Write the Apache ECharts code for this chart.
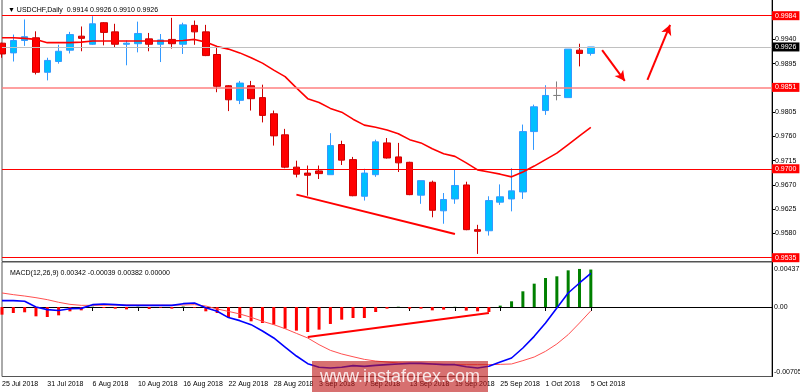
<!DOCTYPE html>
<html>
<head>
<meta charset="utf-8">
<script src="https://cdn.jsdelivr.net/npm/echarts@6/dist/echarts.min.js"></script>
<style>html,body{margin:0;padding:0;background:#fff}#c{width:800px;height:392px}</style>
</head>
<body>
<div id="c"></div>
<script>
// ---------------- data ----------------
const symbolName = 'USDCHF,Daily';
const dates = ['25 Jul 2018','26 Jul 2018','27 Jul 2018','30 Jul 2018','31 Jul 2018','1 Aug 2018','2 Aug 2018','3 Aug 2018','6 Aug 2018','7 Aug 2018','8 Aug 2018','9 Aug 2018','10 Aug 2018','13 Aug 2018','14 Aug 2018','15 Aug 2018','16 Aug 2018','17 Aug 2018','20 Aug 2018','21 Aug 2018','22 Aug 2018','23 Aug 2018','24 Aug 2018','27 Aug 2018','28 Aug 2018','29 Aug 2018','30 Aug 2018','31 Aug 2018','3 Sep 2018','4 Sep 2018','5 Sep 2018','6 Sep 2018','7 Sep 2018','10 Sep 2018','11 Sep 2018','12 Sep 2018','13 Sep 2018','14 Sep 2018','17 Sep 2018','18 Sep 2018','19 Sep 2018','20 Sep 2018','21 Sep 2018','24 Sep 2018','25 Sep 2018','26 Sep 2018','27 Sep 2018','28 Sep 2018','1 Oct 2018','2 Oct 2018','3 Oct 2018','4 Oct 2018','5 Oct 2018'];
const futureSlots = 16;

const opens  = [0.9933,0.9915,0.9938,0.9943,0.9879,0.9899,0.9920,0.9946,0.9931,0.9971,0.9954,0.9931,0.9932,0.9941,0.9931,0.9940,0.9931,0.9966,0.9954,0.9912,0.9854,0.9827,0.9854,0.9832,0.9802,0.9763,0.9703,0.9692,0.9696,0.9689,0.9745,0.9717,0.9649,0.9689,0.9748,0.9722,0.9712,0.9651,0.9675,0.9622,0.9644,0.9670,0.9587,0.9585,0.9638,0.9644,0.9657,0.9769,0.9808,0.9836,0.9832,0.9920,0.9914];
const highs  = [0.9934,0.9949,0.9977,0.9955,0.9906,0.9930,0.9954,0.9964,0.9983,0.9972,0.9969,0.9938,0.9973,0.9952,0.9950,0.9980,0.9971,0.9975,0.9967,0.9924,0.9855,0.9863,0.9863,0.9856,0.9808,0.9774,0.9715,0.9706,0.9706,0.9766,0.9752,0.9722,0.9700,0.9754,0.9757,0.9748,0.9713,0.9678,0.9678,0.9655,0.9698,0.9676,0.9596,0.9649,0.9671,0.9701,0.9782,0.9819,0.9855,0.9862,0.9922,0.9932,0.9926];
const lows   = [0.9906,0.9899,0.9928,0.9875,0.9864,0.9895,0.9914,0.9918,0.9930,0.9929,0.9925,0.9892,0.9916,0.9918,0.9898,0.9923,0.9913,0.9930,0.9909,0.9842,0.9807,0.9820,0.9808,0.9786,0.9743,0.9701,0.9684,0.9650,0.9681,0.9689,0.9707,0.9649,0.9641,0.9685,0.9719,0.9694,0.9651,0.9635,0.9610,0.9598,0.9635,0.9586,0.9542,0.9576,0.9633,0.9621,0.9644,0.9735,0.9800,0.9827,0.9832,0.9890,0.9910];
const closes = [0.9913,0.9938,0.9945,0.9879,0.9901,0.9918,0.9949,0.9942,0.9969,0.9953,0.9931,0.9933,0.9951,0.9931,0.9939,0.9932,0.9967,0.9954,0.9910,0.9853,0.9828,0.9859,0.9830,0.9799,0.9761,0.9703,0.9690,0.9688,0.9691,0.9743,0.9716,0.9650,0.9692,0.9750,0.9720,0.9711,0.9652,0.9678,0.9623,0.9643,0.9669,0.9587,0.9584,0.9641,0.9648,0.9659,0.9769,0.9815,0.9836,0.9836,0.9922,0.9914,0.9926];

const maValues = [0.9943,0.9943,0.9942,0.9940,0.9934,0.9934,0.9934,0.9935,0.9937,0.9937,0.9937,0.9937,0.9937,0.9937,0.9937,0.9937,0.9938,0.9940,0.9935,0.9927,0.9922,0.9915,0.9906,0.9896,0.9883,0.9871,0.9850,0.9830,0.9823,0.9812,0.9805,0.9792,0.9781,0.9777,0.9772,0.9765,0.9754,0.9748,0.9737,0.9728,0.9723,0.9711,0.9698,0.9694,0.9690,0.9685,0.9694,0.9705,0.9717,0.9729,0.9745,0.9761,0.9777];

const macdHist = [-0.00078,-0.00061,-0.00054,-0.00095,-0.00102,-0.00085,-0.00044,-0.00034,0.00003,-0.00010,-0.00017,-0.00024,0.00003,-0.00020,-0.00007,-0.00017,0.00005,-0.00007,-0.00044,-0.00061,-0.00105,-0.00112,-0.00146,-0.00163,-0.00180,-0.00221,-0.00241,-0.00255,-0.00231,-0.00173,-0.00129,-0.00112,-0.00112,-0.00051,-0.00017,0.00003,-0.00017,-0.00017,-0.00034,-0.00027,0.00002,-0.00037,-0.00044,-0.00051,0.00014,0.00058,0.00160,0.00238,0.00296,0.00313,0.00374,0.00388,0.00382];
const macdLine = [0.00065,0.00065,0.00058,0.00000,-0.00027,-0.00035,-0.00017,-0.00014,0.00024,0.00031,0.00024,0.00017,0.00017,0.00017,0.00017,0.00017,0.00034,0.00041,-0.00007,-0.00044,-0.00108,-0.00139,-0.00180,-0.00245,-0.00316,-0.00408,-0.00500,-0.00578,-0.00615,-0.00622,-0.00615,-0.00598,-0.00605,-0.00595,-0.00588,-0.00581,-0.00575,-0.00575,-0.00581,-0.00588,-0.00588,-0.00609,-0.00622,-0.00605,-0.00561,-0.00520,-0.00418,-0.00299,-0.00163,-0.00010,0.00143,0.00245,0.00342];
const signalLine = [0.00143,0.00126,0.00112,0.00095,0.00075,0.00048,0.00027,0.00017,0.00017,0.00018,0.00020,0.00021,0.00020,0.00019,0.00019,0.00018,0.00020,0.00024,0.00010,-0.00020,-0.00045,-0.00071,-0.00105,-0.00146,-0.00180,-0.00221,-0.00269,-0.00316,-0.00384,-0.00442,-0.00479,-0.00507,-0.00534,-0.00551,-0.00561,-0.00571,-0.00575,-0.00578,-0.00581,-0.00585,-0.00588,-0.00588,-0.00588,-0.00588,-0.00585,-0.00581,-0.00547,-0.00510,-0.00452,-0.00377,-0.00282,-0.00163,-0.00039];

const levelLines = [0.9984, 0.9851, 0.9700, 0.9535];
const currentPrice = 0.9926;
const priceTicks = [0.9940, 0.9895, 0.9805, 0.9760, 0.9715, 0.9670, 0.9625, 0.9580];
const macdTicks = [0.00437, 0, -0.00705];
const macdTickLabels = ['0.00437', '0.00', '-0.00705'];
const priceTrend = [[26, 0.9652], [40, 0.9579]];
const arrowDown = [[53, 0.9920], [55, 0.9863]];
const arrowUp = [[57, 0.9865], [59, 0.9967]];
const macdTrend = [[27, -0.00306], [43, -0.00061]];

// ---------------- chart ----------------
const FONT = 'Liberation Sans';
const categories = dates.concat(new Array(futureSlots).fill(''));
const n = dates.length;
const candleData = dates.map((d, i) => {
  const item = { value: [opens[i], closes[i], lows[i], highs[i]] };
  if (opens[i] === closes[i]) item.itemStyle = { color: '#808080', borderColor: '#808080', borderColor0: '#808080', color0: '#808080', borderColorDoji: '#808080' };
  return item;
});
const f4 = v => v.toFixed(4);
const last = n - 1;
const header = '\u25BC ' + symbolName + '  ' + f4(opens[last]) + ' ' + f4(highs[last]) + ' ' + f4(lows[last]) + ' ' + f4(closes[last]);
const macdHeader = 'MACD(12,26,9) ' + macdLine[last].toFixed(5) + ' ' + signalLine[last].toFixed(5) + ' ' + macdHist[last].toFixed(5) + ' 0.00000';

// horizontal level drawn as a 2-point line across the whole category range
function levelItem(v, lineColor, boxColor, width) {
  return [
    { coord: [0, v], lineStyle: { color: lineColor, width: width, type: 'solid' },
      label: { show: true, position: 'end', distance: 0, formatter: f4(v), color: '#fff', backgroundColor: boxColor,
               padding: [1, 3, 1, 3], fontSize: 7, fontFamily: FONT } },
    { coord: [categories.length - 1, v] }
  ];
}
const redLine = { color: '#ff0000', width: 2, type: 'solid' };
const showTick = (idx) => idx % 4 === 0 && idx < n;

const option = {
  animation: false,
  backgroundColor: '#ffffff',
  title: [
    { text: header, left: 3, top: 2, textStyle: { fontSize: 7, fontWeight: 'normal', color: '#000', fontFamily: FONT } },
    { text: macdHeader, left: 5, top: 265, textStyle: { fontSize: 7, fontWeight: 'normal', color: '#000', fontFamily: FONT } }
  ],
  grid: [
    { left: 2, right: 28, top: -1, height: 262.5, show: true, borderColor: '#555', borderWidth: 1, outerBoundsMode: 'none', containLabel: false },
    { left: 2, right: 28, top: 262, height: 114.5, show: true, borderColor: '#555', borderWidth: 1, outerBoundsMode: 'none', containLabel: false }
  ],
  xAxis: [
    { type: 'category', gridIndex: 0, data: categories, boundaryGap: false, show: false },
    {
      type: 'category', gridIndex: 1, data: categories, boundaryGap: false,
      axisLine: { show: true, lineStyle: { color: '#000', width: 1 } },
      axisTick: { show: true, interval: showTick, length: 4, lineStyle: { color: '#000' } },
      axisLabel: { show: true, interval: showTick, align: 'left', margin: 4, fontSize: 7, color: '#000', fontFamily: FONT },
      splitLine: { show: false }
    }
  ],
  yAxis: [
    {
      type: 'value', gridIndex: 0, position: 'right', min: 0.952795, max: 1.001498, scale: true,
      splitLine: { show: false },
      axisLine: { show: true, lineStyle: { color: '#000', width: 1 } },
      axisTick: { show: true, length: 3, customValues: priceTicks, lineStyle: { color: '#000' } },
      axisLabel: { show: true, customValues: priceTicks, hideOverlap: false, formatter: v => f4(v), margin: 3, fontSize: 7, color: '#000', fontFamily: FONT }
    },
    {
      type: 'value', gridIndex: 1, position: 'right', min: -0.007087, max: 0.004589,
      splitLine: { show: false },
      axisLine: { show: true, lineStyle: { color: '#000', width: 1 } },
      axisTick: { show: false },
      axisLabel: {
        show: true, customValues: macdTicks, margin: 2, fontSize: 7, color: '#000', fontFamily: FONT,
        formatter: v => {
          let k = 0, best = Infinity;
          macdTicks.forEach((t, j) => { const d = Math.abs(t - v); if (d < best) { best = d; k = j; } });
          const s = k === 0 ? 't' : (k === macdTicks.length - 1 ? 'b' : 'm');
          return '{' + s + '|' + macdTickLabels[k] + '}';
        },
        rich: {
          t: { padding: [9, 0, 0, 0], fontSize: 7, color: '#000', fontFamily: FONT },
          m: { fontSize: 7, color: '#000', fontFamily: FONT },
          b: { padding: [0, 0, 8, 0], fontSize: 7, color: '#000', fontFamily: FONT }
        }
      }
    }
  ],
  series: [
    {
      name: 'price', type: 'candlestick', xAxisIndex: 0, yAxisIndex: 0,
      data: candleData, barWidth: 7, clip: true, z: 2,
      itemStyle: { color: '#00bfff', color0: '#ff0000', borderColor: '#3399ff', borderColor0: '#cc0000', borderWidth: 1 }
    },
    {
      name: 'ma', type: 'line', xAxisIndex: 0, yAxisIndex: 0, data: maValues,
      symbol: 'none', lineStyle: { color: '#ff0000', width: 1.6 }, z: 3,
      markLine: {
        silent: true, symbol: ['none', 'none'], animation: false, precision: 4,
        data: [
          levelItem(levelLines[0], '#ff0000', '#ff0000', 1),
          levelItem(levelLines[1], '#ff8080', '#ff0000', 1.5),
          levelItem(levelLines[2], '#ff0000', '#ff0000', 1),
          levelItem(levelLines[3], '#ff0000', '#ff0000', 1),
          levelItem(currentPrice, '#c0c0c0', '#000000', 1),
          [ { coord: priceTrend[0], lineStyle: redLine, label: { show: false } }, { coord: priceTrend[1] } ],
          [ { coord: arrowDown[0], symbol: 'none', lineStyle: redLine, label: { show: false } }, { coord: arrowDown[1], symbol: 'arrow', symbolSize: [8, 10] } ],
          [ { coord: arrowUp[0], symbol: 'none', lineStyle: redLine, label: { show: false } }, { coord: arrowUp[1], symbol: 'arrow', symbolSize: [8, 10] } ]
        ]
      }
    },
    {
      name: 'hist', type: 'bar', xAxisIndex: 1, yAxisIndex: 1, barWidth: 3,
      data: macdHist.map(v => ({ value: v, itemStyle: { color: v >= 0 ? '#008000' : '#ff0000' } })),
      markLine: {
        silent: true, symbol: ['none', 'none'], animation: false,
        data: [ [ { coord: macdTrend[0], lineStyle: redLine, label: { show: false } }, { coord: macdTrend[1] } ] ]
      }
    },
    {
      name: 'signal', type: 'line', xAxisIndex: 1, yAxisIndex: 1, data: signalLine,
      symbol: 'none', lineStyle: { color: '#ff5050', width: 1 }, z: 3
    },
    {
      name: 'macd', type: 'line', xAxisIndex: 1, yAxisIndex: 1, data: macdLine,
      symbol: 'none', lineStyle: { color: '#0000ff', width: 1.6 }, z: 4
    }
  ],
  graphic: [
    { type: 'rect', z: 100, shape: { x: 312, y: 361, width: 176, height: 31 }, style: { fill: 'rgba(190,25,25,0.62)' } },
    { type: 'text', z: 101, x: 400, y: 377, style: { text: 'www.instaforex.com', fill: 'rgba(255,255,255,0.85)', font: '18px "Liberation Sans"', align: 'center', verticalAlign: 'middle' } }
  ]
};

const chart = echarts.init(document.getElementById('c'), null, { renderer: 'canvas' });
chart.setOption(option);
</script>
</body>
</html>
